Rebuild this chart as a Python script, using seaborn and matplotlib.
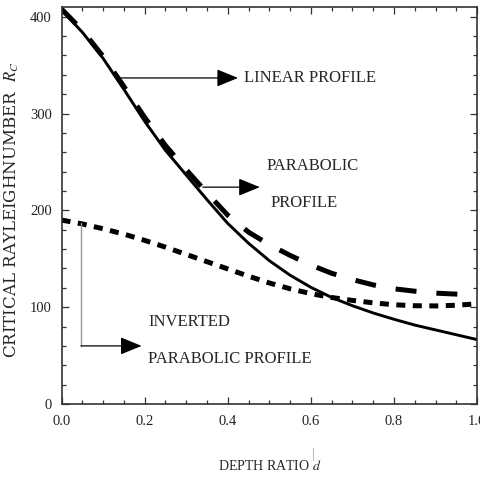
import matplotlib
matplotlib.use("Agg")
import matplotlib.pyplot as plt
import seaborn as sns
import pandas as pd
from matplotlib.lines import Line2D

# depth ratio samples
depth = [0.00, 0.05, 0.10, 0.15, 0.20, 0.25, 0.30, 0.35, 0.40, 0.45, 0.50,
         0.55, 0.60, 0.65, 0.70, 0.75, 0.80, 0.85, 0.90, 0.95, 1.00]

# critical Rayleigh number for each basic temperature profile
rc_linear = [407, 384, 357, 325, 292, 262, 236.5, 211, 186.5, 166, 148,
             133, 120.5, 110, 101.5, 94, 87.5, 81.5, 76.5, 71.5, 66.5]
rc_parabolic = [408, 386, 359, 328, 296, 267, 242, 218, 195, 177.5, 164.5,
                153.5, 143.5, 135, 128.5, 123, 119, 116.5, 114.5, 113.5, 113]
rc_inverted = [190, 186, 181, 175.5, 169, 162, 154.5, 147, 139.5, 132, 125,
               119, 114, 110, 107, 104.5, 102.5, 101.5, 101.3, 102, 103.5]

x_ticks = [0.0, 0.2, 0.4, 0.6, 0.8, 1.0]
x_tick_labels = ["0.0", "0.2", "0.4", "0.6", "0.8", "1.0"]
y_ticks = [0, 100, 200, 300, 400]
y_tick_labels = ["0", "100", "200", "300", "400"]

df = pd.DataFrame({
    "d": depth * 3,
    "Rc": rc_linear + rc_parabolic + rc_inverted,
    "profile": ["linear"] * len(depth) + ["parabolic"] * len(depth)
               + ["inverted"] * len(depth),
})

sns.set_theme(style="ticks")
plt.rcParams["font.family"] = ["Liberation Serif", "DejaVu Serif"]
plt.rcParams["mathtext.fontset"] = "stix"

fig = plt.figure(figsize=(4.81, 4.79), dpi=100)
ax = fig.add_axes([0.128, 0.1566, 0.864, 0.8294])

styles = {
    "linear": dict(lw=2.1, dashes=None),
    "parabolic": dict(lw=3.6, dashes=(4.2, 4.0)),
    "inverted": dict(lw=3.6, dashes=(1.8, 1.5)),
}
for name in ["linear", "parabolic", "inverted"]:
    sub = df[df["profile"] == name]
    sns.lineplot(data=sub, x="d", y="Rc", ax=ax, color="black",
                 lw=styles[name]["lw"], estimator=None, sort=True)
    line = ax.lines[-1]
    line.set_solid_joinstyle("round")
    if styles[name]["dashes"] is not None:
        line.set_dashes(styles[name]["dashes"])
        line.set_dash_capstyle("butt")

ax.set_xlim(0, 1.0)
ax.set_ylim(0, 410.4)
ax.set_xticks(x_ticks)
ax.set_xticklabels(x_tick_labels)
ax.set_yticks(y_ticks)
ax.set_yticklabels(y_tick_labels)
ax.set_xticks([i * 0.05 for i in range(21)], minor=True)
ax.set_yticks([i * 20 for i in range(21)], minor=True)

for side in ["top", "right", "left", "bottom"]:
    ax.spines[side].set_visible(True)
    ax.spines[side].set_color("#333333")
    ax.spines[side].set_linewidth(1.2)

ax.tick_params(which="both", direction="in", top=True, right=True,
               color="#333333", width=0.9, labelsize=10.5,
               labelcolor="#222222")
ax.tick_params(which="major", length=5)
ax.tick_params(which="minor", length=3)
ax.tick_params(axis="x", pad=8)
ax.tick_params(axis="y", pad=7)

ax.set_xlabel("DEPTH RATIO $d$", fontsize=10, labelpad=22)
ax.set_ylabel("CRITICAL RAYLEIGHNUMBER  $R_C$", fontsize=12,
              family=["DejaVu Serif"])
ax.yaxis.set_label_coords(-0.098, 0.49)

head = dict(arrowstyle="-|>,head_length=1.1,head_width=0.45",
            color="black", lw=0.9, shrinkA=0, shrinkB=0)

# linear profile pointer
ax.annotate("", xy=(0.4245, 336.8), xytext=(0.1356, 336.8), arrowprops=head)
ax.text(0.439, 336.8, "LINEAR PROFILE", fontsize=12, va="center", ha="left")

# parabolic profile pointer
ax.annotate("", xy=(0.477, 224), xytext=(0.340, 224), arrowprops=head)
ax.text(0.493, 246, "PARABOLIC", fontsize=12, va="center", ha="left")
ax.text(0.502, 207.6, "PROFILE", fontsize=12, va="center", ha="left")

# inverted parabolic profile pointer
ax.plot([0.0465, 0.0465], [187, 60], color="#9a9a9a", lw=1.0)
ax.annotate("", xy=(0.1926, 60), xytext=(0.0465, 60), arrowprops=head)
ax.text(0.2078, 84.7, "INVERTED", fontsize=12, va="center", ha="left")
ax.text(0.2078, 46.5, "PARABOLIC PROFILE", fontsize=12, va="center",
        ha="left")

# small overbar mark above the depth symbol
fig.add_artist(Line2D([313 / 481, 313 / 481], [1 - 448 / 479, 1 - 460 / 479],
                      color="#bbbbbb", lw=0.8))

fig.savefig("out.png", dpi=100)
